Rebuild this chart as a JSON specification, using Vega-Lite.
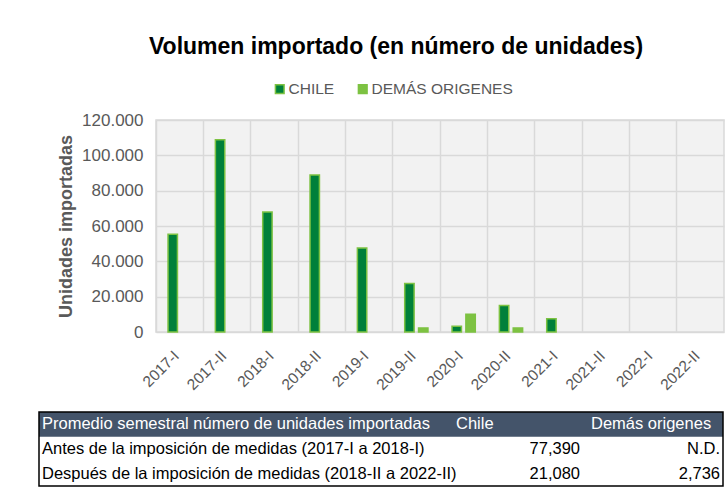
{
  "$schema": "https://vega.github.io/schema/vega-lite/v6.json",
  "background": "white",
  "padding": {"left": 38, "top": 35, "right": 0, "bottom": 0},
  "autosize": {"type": "pad"},
  "spacing": 17,
  "config": {"font": "Liberation Sans", "view": {"stroke": null}},
  "datasets": {
    "volumen": [
      {"periodo": "2017-I", "origen": "CHILE", "valor": 55400},
      {"periodo": "2017-II", "origen": "CHILE", "valor": 108800},
      {"periodo": "2018-I", "origen": "CHILE", "valor": 67970},
      {"periodo": "2018-II", "origen": "CHILE", "valor": 88900},
      {"periodo": "2019-I", "origen": "CHILE", "valor": 47500},
      {"periodo": "2019-II", "origen": "CHILE", "valor": 27500},
      {"periodo": "2019-II", "origen": "DEMÁS ORIGENES", "valor": 2300},
      {"periodo": "2020-I", "origen": "CHILE", "valor": 3300},
      {"periodo": "2020-I", "origen": "DEMÁS ORIGENES", "valor": 10000},
      {"periodo": "2020-II", "origen": "CHILE", "valor": 15000},
      {"periodo": "2020-II", "origen": "DEMÁS ORIGENES", "valor": 2300},
      {"periodo": "2021-I", "origen": "CHILE", "valor": 7500}
    ],
    "tabla": [
      {"fila": 0, "columna": "descripcion", "texto": "Promedio semestral número de unidades importadas"},
      {"fila": 0, "columna": "chile", "texto": "Chile"},
      {"fila": 0, "columna": "demas", "texto": "Demás origenes"},
      {"fila": 1, "columna": "descripcion", "texto": "Antes de la imposición de medidas (2017-I a 2018-I)"},
      {"fila": 1, "columna": "chile", "texto": "77,390"},
      {"fila": 1, "columna": "demas", "texto": "N.D."},
      {"fila": 2, "columna": "descripcion", "texto": "Después de la imposición de medidas (2018-II a 2022-II)"},
      {"fila": 2, "columna": "chile", "texto": "21,080"},
      {"fila": 2, "columna": "demas", "texto": "2,736"}
    ]
  },
  "vconcat": [
    {
      "width": 568,
      "height": 212,
      "view": {"fill": "#f2f2f2", "stroke": "#d9d9d9", "strokeWidth": 1.5},
      "title": {
        "text": "Volumen importado (en número de unidades)",
        "fontSize": 23,
        "fontWeight": "bold",
        "color": "#000000",
        "anchor": "middle",
        "dx": -44,
        "offset": 52
      },
      "data": {"name": "volumen"},
      "mark": {"type": "bar", "stroke": "#7DC242", "strokeWidth": 1.5},
      "encoding": {
        "x": {
          "field": "periodo",
          "type": "ordinal",
          "scale": {
            "domain": ["2017-I", "2017-II", "2018-I", "2018-II", "2019-I", "2019-II", "2020-I", "2020-II", "2021-I", "2021-II", "2022-I", "2022-II"],
            "paddingInner": 0,
            "paddingOuter": 0
          },
          "axis": {
            "title": null,
            "labelAngle": -45,
            "labelAlign": "right",
            "labelBaseline": "top",
            "labelFontSize": 15.5,
            "labelColor": "#595959",
            "bandPosition": 0,
            "labelOffset": -8,
            "labelPadding": 16,
            "ticks": false,
            "domain": false,
            "grid": true,
            "gridColor": "#d9d9d9",
            "gridWidth": 1.5
          }
        },
        "xOffset": {
          "field": "origen",
          "sort": ["CHILE", "DEMÁS ORIGENES"],
          "scale": {"domain": ["CHILE", "DEMÁS ORIGENES"], "paddingInner": 0.32, "paddingOuter": 0.87}
        },
        "y": {
          "field": "valor",
          "type": "quantitative",
          "scale": {"domain": [0, 120000], "nice": false},
          "axis": {
            "title": "Unidades importadas",
            "titleFontSize": 18,
            "titleFontWeight": "bold",
            "titleColor": "#595959",
            "titlePadding": 6,
            "labelFontSize": 17,
            "labelColor": "#595959",
            "labelPadding": 13,
            "ticks": false,
            "domain": false,
            "values": [0, 20000, 40000, 60000, 80000, 100000, 120000],
            "labelExpr": "replace(format(datum.value, ','), ',', '.')",
            "gridColor": "#d9d9d9",
            "gridWidth": 1.5
          }
        },
        "color": {
          "field": "origen",
          "type": "nominal",
          "scale": {"domain": ["CHILE", "DEMÁS ORIGENES"], "range": ["#00803A", "#7DC242"]},
          "legend": {
            "title": null,
            "orient": "none",
            "legendX": 116,
            "legendY": -39,
            "direction": "horizontal",
            "labelFontSize": 15.5,
            "labelColor": "#595959",
            "symbolType": "square",
            "symbolSize": 75,
            "symbolStrokeColor": "#7DC242",
            "symbolStrokeWidth": 1.5,
            "labelOffset": 1,
            "columnPadding": 20
          }
        }
      }
    },
    {
      "width": 567,
      "height": 74,
      "data": {"name": "tabla"},
      "layer": [
        {
          "transform": [{"filter": "datum.fila == 0 && datum.columna == 'descripcion'"}],
          "mark": {"type": "rect", "color": "#44546A"},
          "encoding": {
            "x": {"datum": 0, "type": "quantitative", "scale": {"domain": [0, 1], "range": [-117, 567]}, "axis": null},
            "x2": {"datum": 1},
            "y": {"field": "fila", "type": "ordinal", "scale": {"domain": [0, 1, 2], "paddingInner": 0, "paddingOuter": 0}, "axis": null}
          }
        },
        {
          "transform": [{"filter": "datum.fila == 0 && datum.columna == 'descripcion'"}],
          "mark": {"type": "rect", "fill": null, "fillOpacity": 0, "stroke": "#000000", "strokeWidth": 1.5},
          "encoding": {
            "x": {"datum": 0, "type": "quantitative", "scale": {"domain": [0, 1], "range": [-117, 567]}, "axis": null},
            "x2": {"datum": 1}
          }
        },
        {
          "transform": [{"filter": "datum.columna == 'descripcion'"}],
          "mark": {"type": "text", "align": "left", "fontSize": 16.5},
          "encoding": {
            "x": {"field": "columna", "type": "nominal", "scale": {"type": "point", "domain": ["descripcion"], "range": [-114, -114], "padding": 0}, "axis": null},
            "y": {"field": "fila", "type": "ordinal", "scale": {"domain": [0, 1, 2], "paddingInner": 0, "paddingOuter": 0}, "axis": null},
            "text": {"field": "texto"},
            "color": {"condition": {"test": "datum.fila == 0", "value": "#ffffff"}, "value": "#000000"}
          }
        },
        {
          "transform": [{"filter": "datum.fila == 0 && datum.columna != 'descripcion'"}],
          "mark": {"type": "text", "align": "left", "fontSize": 16.5, "color": "#ffffff"},
          "encoding": {
            "x": {"field": "columna", "type": "nominal", "scale": {"type": "point", "domain": ["chile", "demas"], "range": [300, 435], "padding": 0}, "axis": null},
            "y": {"field": "fila", "type": "ordinal", "scale": {"domain": [0, 1, 2], "paddingInner": 0, "paddingOuter": 0}, "axis": null},
            "text": {"field": "texto"}
          }
        },
        {
          "transform": [{"filter": "datum.fila > 0 && datum.columna != 'descripcion'"}],
          "mark": {"type": "text", "align": "right", "fontSize": 16.5, "color": "#000000"},
          "encoding": {
            "x": {"field": "columna", "type": "nominal", "scale": {"type": "point", "domain": ["chile", "demas"], "range": [424, 564], "padding": 0}, "axis": null},
            "y": {"field": "fila", "type": "ordinal", "scale": {"domain": [0, 1, 2], "paddingInner": 0, "paddingOuter": 0}, "axis": null},
            "text": {"field": "texto"}
          }
        }
      ],
      "resolve": {"scale": {"x": "independent"}}
    }
  ]
}
